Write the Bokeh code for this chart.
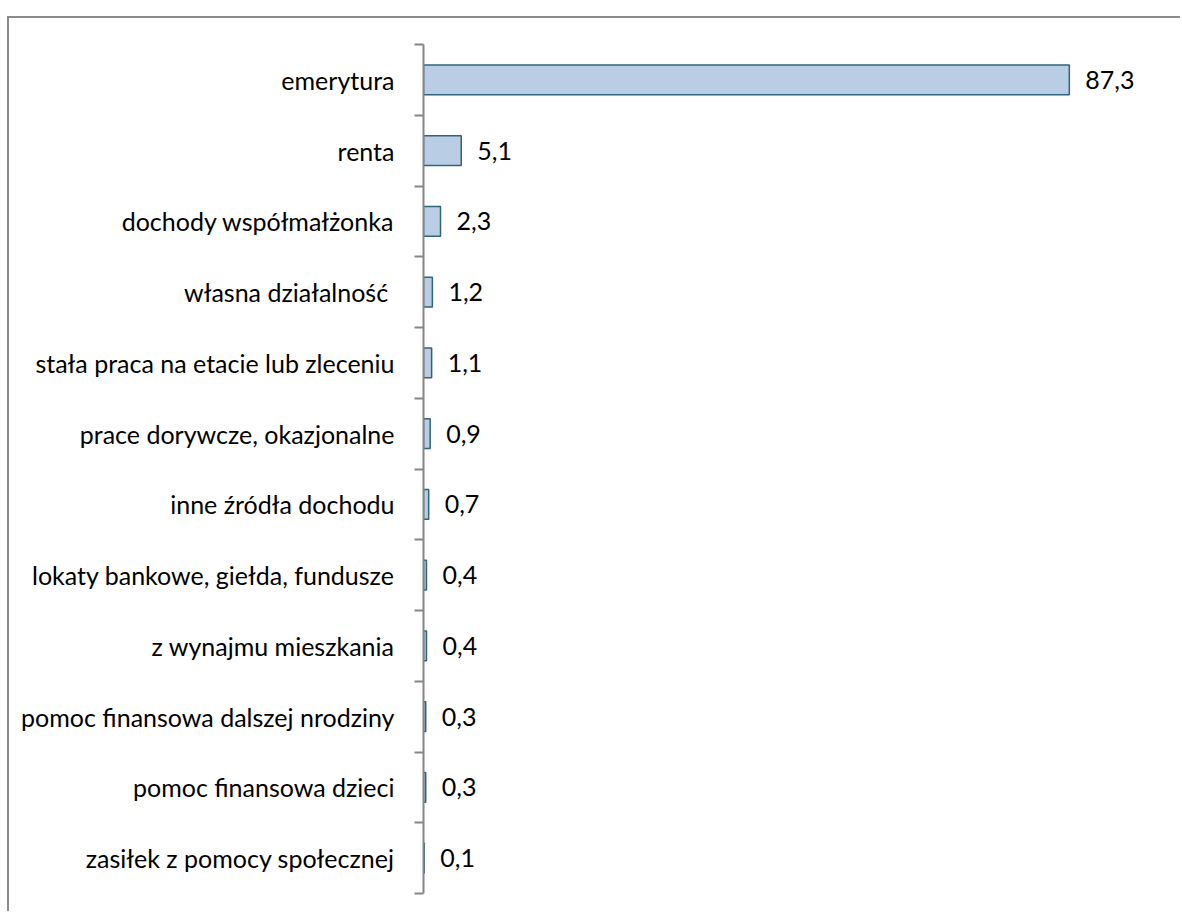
from bokeh.plotting import figure
from bokeh.models import ColumnDataSource, Range1d, FixedTicker, LabelSet
from bokeh.core.properties import value
from bokeh.embed import file_html
from bokeh.resources import INLINE

# Income sources, top to bottom, with share in percent
categories = [
    "emerytura",
    "renta",
    "dochody współmałżonka",
    "własna działalność ",
    "stała praca na etacie lub zleceniu",
    "prace dorywcze, okazjonalne",
    "inne źródła dochodu",
    "lokaty bankowe, giełda, fundusze",
    "z wynajmu mieszkania",
    "pomoc finansowa dalszej nrodziny",
    "pomoc finansowa dzieci",
    "zasiłek z pomocy społecznej",
]
values = [87.3, 5.1, 2.3, 1.2, 1.1, 0.9, 0.7, 0.4, 0.4, 0.3, 0.3, 0.1]

FONT = "Lato"
FONT_SIZE = "25px"
n = len(categories)
centers = [i + 0.5 for i in range(n)]

src = ColumnDataSource(dict(
    y=centers,
    v=values,
    lbl=[f"{v:.1f}".replace(".", ",") for v in values],
))

p = figure(
    width=1173, height=895,
    x_range=Range1d(0, 102.6),
    y_range=Range1d(n, 0),
    output_backend="svg", toolbar_location=None,
    min_border_left=414, min_border_right=0,
    min_border_top=26, min_border_bottom=20,
)
p.styles = {
    "margin-left": "7px",
    "margin-top": "16px",
    "border-left": "2px solid #8c8c8c",
    "border-top": "2px solid #8c8c8c",
}
p.outline_line_color = None
p.xgrid.visible = False
p.ygrid.visible = False
p.xaxis.visible = False

p.hbar(y="y", right="v", left=0, height=0.42, source=src,
       fill_color="#B9CDE5", line_color="#2F6578", line_width=1.5)

labels = LabelSet(x="v", y="y", text="lbl", source=src, x_offset=16,
                  text_baseline="middle", text_align="left",
                  text_font=value(FONT), text_font_size=value(FONT_SIZE),
                  text_color="#000000")
p.add_layout(labels)

ax = p.yaxis[0]
ax.ticker = FixedTicker(ticks=centers, minor_ticks=list(range(n + 1)))
ax.major_label_overrides = {c: name for c, name in zip(centers, categories)}
ax.major_tick_line_color = None
ax.minor_tick_out = 9
ax.minor_tick_in = 0
ax.minor_tick_line_color = "#868686"
ax.minor_tick_line_width = 2
ax.axis_line_color = "#868686"
ax.axis_line_width = 2
ax.major_label_standoff = 20
ax.major_label_text_font = FONT
ax.major_label_text_font_size = FONT_SIZE
ax.major_label_text_color = "#000000"

open("out.html", "w").write(file_html(p, INLINE))
